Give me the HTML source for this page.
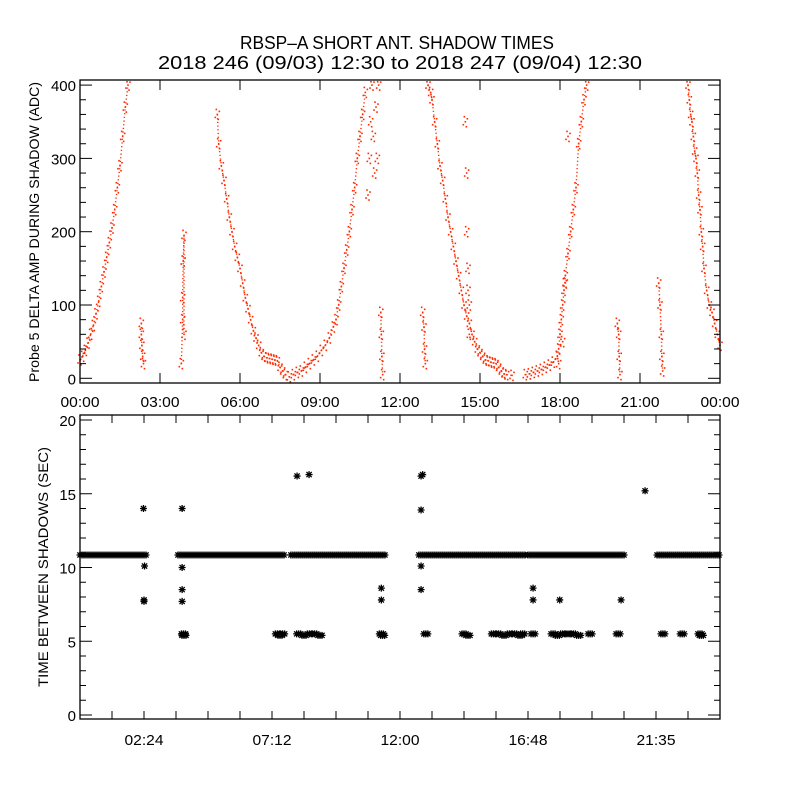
<!DOCTYPE html>
<html><head><meta charset="utf-8"><style>
html,body{margin:0;padding:0;background:#fff;}
svg text{font-family:"Liberation Sans",sans-serif;fill:#000;}
</style></head><body>
<svg id="chart" width="800" height="800" viewBox="0 0 800 800" xmlns="http://www.w3.org/2000/svg">
<rect width="800" height="800" fill="#fff"/>
<text x="397" y="49" font-size="18" text-anchor="middle" textLength="314" lengthAdjust="spacingAndGlyphs">RBSP–A SHORT ANT. SHADOW TIMES</text>
<text x="400" y="69" font-size="18" text-anchor="middle" textLength="484" lengthAdjust="spacingAndGlyphs">2018 246 (09/03) 12:30 to 2018 247 (09/04) 12:30</text>
<g id="topPanel"></g>
<g id="botPanel"></g>
</svg>
<script>
// ---- top panel data (hours since 00:00, ADC value) ----
const ampHours = [0,0.1,0.2,0.3,0.4,0.5,0.6,0.7,0.8,0.9,1.0,1.1,1.2,1.3,1.4,1.5,1.6,1.7,1.8,
 2.3,2.3,2.32,2.35,2.38,
 3.8,3.85,3.85,3.87,3.9,3.9,
 5.15,5.2,5.3,5.4,5.5,5.6,5.7,5.8,5.9,6.0,6.1,6.2,6.3,6.4,6.5,6.6,6.7,6.8,6.9,7.0,7.1,7.2,7.3,7.4,7.5,7.6,7.7,7.85,
 8.0,8.15,8.3,8.45,8.6,8.75,8.9,9.05,9.2,9.35,9.5,9.6,9.7,9.8,9.9,10.0,10.1,10.2,10.3,10.4,10.5,10.6,10.7,
 10.8,10.85,10.9,10.95,11.0,11.05,11.1,11.15,11.2,
 11.28,11.3,11.32,11.35,
 12.85,12.9,12.92,12.95,
 13.05,13.15,13.2,13.3,13.4,13.5,13.6,13.7,13.8,13.9,14.0,14.1,14.2,14.3,14.4,14.5,14.6,14.7,14.8,14.9,15.0,15.1,15.2,15.3,15.4,15.5,15.6,15.7,15.8,15.9,16.0,16.2,
 14.45,14.5,14.5,14.55,14.55,14.6,14.6,
 16.7,16.85,17.0,17.15,17.3,17.45,17.6,17.75,17.9,17.95,18.0,18.05,18.1,18.15,18.2,18.3,18.4,18.5,18.6,18.7,18.8,18.9,19.0,
 17.95,18.1,18.2,18.3,
 20.15,20.2,20.22,20.25,
 21.7,21.75,21.8,21.82,21.85,
 22.8,22.85,22.9,22.95,23.0,23.05,23.1,23.15,23.2,23.25,23.3,23.35,23.4,23.5,23.6,23.7,23.8,23.9,24.0];
const ampValues = [25,30,38,48,60,72,88,105,125,145,165,185,205,230,260,290,330,370,400,
 75,60,45,30,20,
 20,80,110,160,195,60,
 360,320,290,270,245,220,200,180,165,150,130,110,95,80,65,55,45,35,30,28,27,26,25,24,15,10,5,2,
 5,8,10,15,20,25,30,38,45,55,70,80,100,125,150,175,200,230,260,300,330,360,390,
 250,300,350,400,330,280,370,300,400,
 90,60,30,5,
 90,70,40,20,
 400,390,380,350,320,290,270,245,220,200,180,160,140,120,100,85,75,60,50,40,35,30,25,24,22,21,20,15,10,6,5,4,
 350,280,200,150,120,100,60,
 5,6,8,10,12,15,18,22,30,40,60,80,100,120,140,170,200,230,260,320,350,380,400,
 20,50,130,330,
 75,60,30,5,
 130,100,60,30,10,
 400,380,360,350,330,310,300,280,250,230,200,180,150,120,100,90,75,60,45];
const ampSegLengths = [19,5,6,28,23,9,4,4,32,7,23,4,4,5,19];
const ampSegTrace   = [1,1,1,1,1,0,1,1,1,0,1,0,1,1,1];
const topYTicks = [0,100,200,300,400];
const topXTickLabels = ["00:00","03:00","06:00","09:00","12:00","15:00","18:00","21:00","00:00"];

// ---- bottom panel data ----
const bandStart = [0,3.675,7.91,12.71,16.8,21.64];
const bandEnd   = [2.475,7.65,11.475,16.69,20.44,24.0];
const bandValue = 10.85;
const ptHours = [2.38,2.42,2.4,2.4,3.83,3.83,3.83,3.83,3.88,3.9,7.4,7.5,7.6,8.14,8.59,8.2,8.4,8.6,8.8,9.0,11.3,11.3,11.3,11.35,12.79,12.79,12.85,12.79,12.79,12.97,
 14.4,14.55,15.5,15.7,15.9,16.1,16.3,16.5,16.6,16.99,16.99,16.99,17.99,17.74,17.9,18.1,18.3,18.5,18.7,19.13,20.18,20.29,21.19,21.86,22.58,23.25,23.3];
const ptValues = [14,10.1,7.8,7.7,14,10,8.5,7.7,5.5,5.4,5.5,5.4,5.5,16.2,16.3,5.5,5.4,5.5,5.5,5.4,8.6,7.8,5.5,5.4,13.9,16.2,16.3,10.1,8.5,5.5,
 5.5,5.4,5.5,5.5,5.4,5.5,5.5,5.4,5.5,5.5,8.6,7.8,7.8,5.5,5.4,5.5,5.5,5.5,5.4,5.5,5.5,7.8,15.2,5.5,5.5,5.5,5.4];
const botYTicks = [0,5,10,15,20];
const botXTickHours = [2.4,7.2,12.0,16.8,21.6];
const botXTickLabels = ["02:24","07:12","12:00","16:48","21:35"];

const NS="http://www.w3.org/2000/svg";
function mk(parent,tag,attrs){const e=document.createElementNS(NS,tag);for(const k in attrs)e.setAttribute(k,attrs[k]);parent.appendChild(e);return e;}
const L=80,R=720;
const xS=h=>L+(R-L)*h/24;
const tT=80,tB=383;
const yT=v=>378.3-v*0.733;
const bT=420,bB=719;
const yB=v=>715-v*14.75;

const topG=document.getElementById('topPanel');
const botG=document.getElementById('botPanel');

const segOf=[];
ampSegLengths.forEach((n,s)=>{for(let k=0;k<n;k++)segOf.push(s);});

for(let i=0;i<ampHours.length;i++){
  const cx=xS(ampHours[i]),cy=Math.max(tT+2,yT(ampValues[i]));
  if(i>0 && segOf[i]===segOf[i-1] && ampSegTrace[segOf[i]]){
    const ln=mk(topG,'line',{x1:xS(ampHours[i-1]),y1:Math.max(tT+2,yT(ampValues[i-1])),x2:cx,y2:cy,stroke:'#ff2a00','stroke-width':1.4,'stroke-dasharray':'1.2 2.5'});
    
    
  }
  [[0,0],[2,-3],[-2,3],[1,5],[-1,-5]].forEach(o=>{
    const d=mk(topG,'rect',{x:cx+o[0]-0.8,y:Math.min(tB-2,Math.max(tT+1,cy+o[1]-0.8)),width:1.6,height:1.6,fill:'#ff2a00'});
    
    
  });
}
const tf=mk(topG,'rect',{x:L,y:tT,width:R-L,height:tB-tT,fill:'none',stroke:'#000','stroke-width':1.3});


for(let v=0;v<=400;v+=20){
  const len=(v%100===0)?12:6;
  mk(topG,'line',{x1:L,y1:yT(v),x2:L+len,y2:yT(v),stroke:'#000'});
  mk(topG,'line',{x1:R,y1:yT(v),x2:R-len,y2:yT(v),stroke:'#000'});
}
topYTicks.forEach(v=>{
  const t=mk(topG,'text',{x:L-4,y:yT(v)+6,'font-size':15,'text-anchor':'end'});t.textContent=String(v);
  
  
});
topXTickLabels.forEach((s,i)=>{
  const x=xS(i*3);
  mk(topG,'line',{x1:x,y1:tB,x2:x,y2:tB-10,stroke:'#000'});
  mk(topG,'line',{x1:x,y1:tT,x2:x,y2:tT+10,stroke:'#000'});
  const t=mk(topG,'text',{x:x,y:407,'font-size':15,'text-anchor':'middle',textLength:39,lengthAdjust:'spacingAndGlyphs'});t.textContent=s;
  
  
});
const ty=mk(topG,'text',{transform:'translate(39,232) rotate(-90)','font-size':14,'text-anchor':'middle',textLength:300,lengthAdjust:'spacingAndGlyphs'});
ty.textContent='Probe 5 DELTA AMP DURING SHADOW (ADC)';



function star(x,y,name){
  const g=mk(botG,'path',{d:`M${x-3.5} ${y}H${x+3.5}M${x} ${y-3.5}V${y+3.5}M${x-2.6} ${y-2.6}L${x+2.6} ${y+2.6}M${x-2.6} ${y+2.6}L${x+2.6} ${y-2.6}`,stroke:'#000','stroke-width':1.3});
  
  
}
for(let s=0;s<bandStart.length;s++){
  for(let x=xS(bandStart[s]);x<=xS(bandEnd[s])+0.01;x+=2){star(Math.min(x,R-1),yB(bandValue),'interval-band-point');}
}
for(let i=0;i<ptHours.length;i++){
  const x=xS(ptHours[i]),y=yB(ptValues[i]);
  star(x,y,'interval-point');
  if(Math.abs(ptValues[i]-5.45)<0.2){star(x+2,y,'interval-point');star(x-2,y,'interval-point');}
}
const bf=mk(botG,'rect',{x:L,y:bT-5,width:R-L,height:bB-bT+5,fill:'none',stroke:'#000','stroke-width':1.3});


for(let v=0;v<=20;v++){
  const len=(v%5===0)?12:6;
  mk(botG,'line',{x1:L,y1:yB(v),x2:L+len,y2:yB(v),stroke:'#000'});
  mk(botG,'line',{x1:R,y1:yB(v),x2:R-len,y2:yB(v),stroke:'#000'});
}
botYTicks.forEach(v=>{
  const t=mk(botG,'text',{x:L-4,y:yB(v)+6,'font-size':15,'text-anchor':'end'});t.textContent=String(v);
  
  
});
for(let k=1;k<20;k++){
  const x=xS(k*1.2);
  mk(botG,'line',{x1:x,y1:bB,x2:x,y2:bB-8,stroke:'#000'});
  mk(botG,'line',{x1:x,y1:bT-5,x2:x,y2:bT+3,stroke:'#000'});
}
botXTickLabels.forEach((s,i)=>{
  const x=xS(botXTickHours[i]);
  const t=mk(botG,'text',{x:x,y:745,'font-size':15,'text-anchor':'middle',textLength:39,lengthAdjust:'spacingAndGlyphs'});t.textContent=s;
  
  
});
const by=mk(botG,'text',{transform:'translate(48,567) rotate(-90)','font-size':14,'text-anchor':'middle',textLength:240,lengthAdjust:'spacingAndGlyphs'});
by.textContent='TIME BETWEEN SHADOWS (SEC)';


</script>
</body></html>
